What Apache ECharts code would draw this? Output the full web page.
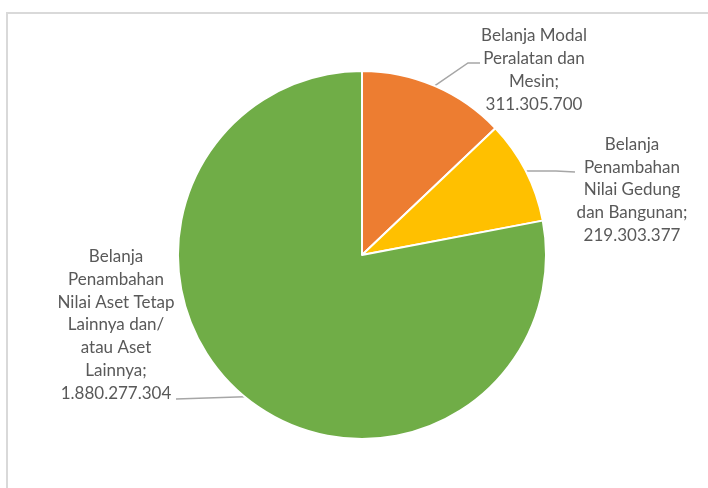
<!DOCTYPE html>
<html>
<head>
<meta charset="utf-8">
<script src="https://cdn.jsdelivr.net/npm/echarts@6/dist/echarts.min.js"></script>
<style>
  html, body { margin: 0; padding: 0; background: #fff; overflow: hidden; }
  #bingkai { position: absolute; left: 6px; top: 12px; width: 800px; height: 600px; border: 2px solid #d9d9d9; }
  #grafik { position: absolute; left: 0; top: 0; width: 708px; height: 488px; }
</style>
</head>
<body>
<div id="bingkai"></div>
<div id="grafik"></div>
<script>
const kategori = [
  "Belanja Modal\nPeralatan dan\nMesin",
  "Belanja\nPenambahan\nNilai Gedung\ndan Bangunan",
  "Belanja\nPenambahan\nNilai Aset Tetap\nLainnya dan/\natau Aset\nLainnya"
];
const nilai = [311305700, 219303377, 1880277304];
const warna = ["#ED7D31", "#FFC000", "#70AD47"];

// posisi label (tengah blok teks)
const posisiLabel = [[534, 70], [632, 190], [116, 325]];
// titik tekuk & ujung garis penunjuk di sisi label
const garisLabel = [
  [[468, 63], [480, 63]],
  [[556, 171], [575, 172]],
  [[176, 399]]
];

function formatTitik(v) {
  return String(v).replace(/\B(?=(\d{3})+(?!\d))/g, ".");
}

const chart = echarts.init(document.getElementById("grafik"));

const cx = 362, cy = 255, r = 184;
const total = nilai.reduce((a, b) => a + b, 0);

function titikBusur(i) {
  // titik tengah busur irisan ke-i (searah jarum jam dari atas)
  let awal = 0;
  for (let k = 0; k < i; k++) awal += nilai[k];
  const sudut = ((awal + nilai[i] / 2) / total) * Math.PI * 2;
  return [cx + r * Math.sin(sudut), cy - r * Math.cos(sudut)];
}

chart.setOption({
  backgroundColor: "transparent",
  animation: false,
  series: [
    {
      type: "pie",
      center: [cx, cy],
      radius: r,
      startAngle: 90,
      clockwise: true,
      data: kategori.map((k, i) => ({
        name: k,
        value: nilai[i],
        itemStyle: { color: warna[i] }
      })),
      itemStyle: { borderColor: "#fff", borderWidth: 2 },
      label: {
        show: true,
        position: "outside",
        formatter: (p) => p.name + ";\n" + formatTitik(p.value),
        fontFamily: "Lato",
        fontSize: 17,
        lineHeight: 22.7,
        color: "#595959",
        align: "center"
      },
      labelLine: {
        show: true,
        length: 20,
        length2: 10,
        smooth: false,
        lineStyle: { color: "#a6a6a6", width: 1.5 }
      },
      labelLayout: (params) => {
        const i = params.dataIndex;
        return {
          x: posisiLabel[i][0],
          y: posisiLabel[i][1],
          align: "center",
          verticalAlign: "middle",
          labelLinePoints: [titikBusur(i)].concat(garisLabel[i])
        };
      },
      emphasis: { disabled: true }
    }
  ]
});
</script>
</body>
</html>
